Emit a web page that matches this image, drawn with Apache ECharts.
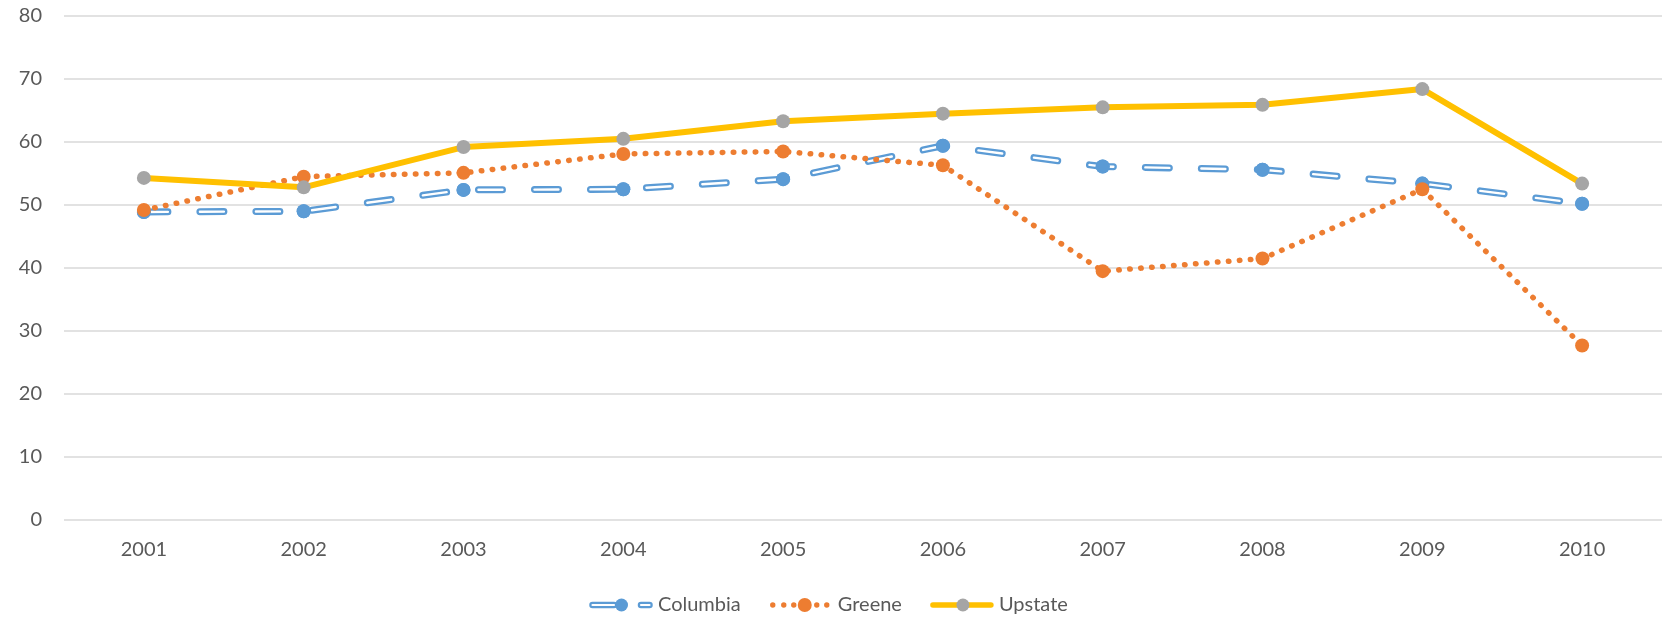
<!DOCTYPE html>
<html>
<head>
<meta charset="utf-8">
<script src="https://cdn.jsdelivr.net/npm/echarts@6/dist/echarts.min.js"></script>
<style>
html,body{margin:0;padding:0;background:#fff;}
#chart{width:1662px;height:619px;}
</style>
</head>
<body>
<div id="chart"></div>
<script>
const years = ['2001','2002','2003','2004','2005','2006','2007','2008','2009','2010'];
const columbia = [48.9, 49.0, 52.4, 52.5, 54.1, 59.4, 56.1, 55.6, 53.4, 50.2];
const greene   = [49.2, 54.5, 55.1, 58.1, 58.5, 56.3, 39.5, 41.5, 52.5, 27.7];
const upstate  = [54.3, 52.8, 59.2, 60.5, 63.3, 64.5, 65.5, 65.9, 68.4, 53.4];
const yTicks = {min: 0, max: 80, interval: 10};

const FONT = 'Lato';
const TXT = '#595959';
const BLUE = '#5B9BD5', ORANGE = '#ED7D31', GOLD = '#FFC000', GREY = '#A5A5A5';

function svgIcon(body) {
  const svg = '<svg xmlns="http://www.w3.org/2000/svg" width="64" height="16" viewBox="0 0 64 16">' + body + '</svg>';
  return 'image://data:image/svg+xml;charset=utf-8,' + encodeURIComponent(svg);
}
const iconColumbia = svgIcon(
  '<line x1="3.5" y1="8" x2="25" y2="8" stroke="' + BLUE + '" stroke-width="6.5" stroke-linecap="round"/>' +
  '<line x1="3.5" y1="8" x2="25" y2="8" stroke="#fff" stroke-width="2.2" stroke-linecap="round"/>' +
  '<line x1="52" y1="8" x2="60.5" y2="8" stroke="' + BLUE + '" stroke-width="6.5" stroke-linecap="round"/>' +
  '<line x1="52" y1="8" x2="60.5" y2="8" stroke="#fff" stroke-width="2.2" stroke-linecap="round"/>' +
  '<circle cx="32.5" cy="8" r="6.5" fill="' + BLUE + '"/>'
);
const iconGreene = svgIcon(
  '<circle cx="4" cy="8" r="2.7" fill="' + ORANGE + '"/>' +
  '<circle cx="15" cy="8" r="2.7" fill="' + ORANGE + '"/>' +
  '<circle cx="25" cy="8" r="2.7" fill="' + ORANGE + '"/>' +
  '<circle cx="36" cy="8" r="7" fill="' + ORANGE + '"/>' +
  '<circle cx="48" cy="8" r="2.7" fill="' + ORANGE + '"/>' +
  '<circle cx="58" cy="8" r="2.7" fill="' + ORANGE + '"/>'
);
const iconUpstate = svgIcon(
  '<line x1="3" y1="8" x2="61" y2="8" stroke="' + GOLD + '" stroke-width="5.5" stroke-linecap="round"/>' +
  '<circle cx="33" cy="8" r="6.5" fill="' + GREY + '"/>'
);

const chart = echarts.init(document.getElementById('chart'), null, {renderer: 'canvas'});
chart.setOption({
  animation: false,
  backgroundColor: '#ffffff',
  grid: {left: 64, top: 16, width: 1617, height: 504, containLabel: false},
  legend: {
    data: [
      {name: 'Columbia', icon: iconColumbia},
      {name: 'Greene', icon: iconGreene},
      {name: 'Upstate', icon: iconUpstate}
    ],
    left: 584, top: 590,
    itemWidth: 64, itemHeight: 16, itemGap: 28,
    textStyle: {color: TXT, fontFamily: FONT, fontSize: 20}
  },
  xAxis: {
    type: 'category', data: years, boundaryGap: true,
    axisLine: {show: false}, axisTick: {show: false},
    axisLabel: {color: TXT, fontFamily: FONT, fontSize: 20, margin: 20}
  },
  yAxis: {
    type: 'value', min: yTicks.min, max: yTicks.max, interval: yTicks.interval,
    axisLine: {show: false}, axisTick: {show: false},
    axisLabel: {color: TXT, fontFamily: FONT, fontSize: 20, margin: 22},
    splitLine: {lineStyle: {color: '#D9D9D9', width: 1.5}}
  },
  series: [
    {
      name: 'Columbia', type: 'line', data: columbia,
      color: BLUE, symbol: 'circle', symbolSize: 14,
      itemStyle: {color: BLUE},
      lineStyle: {color: BLUE, width: 7, type: [24, 32], cap: 'round', join: 'round'}
    },
    {
      name: 'Columbia_inner', type: 'line', data: columbia,
      symbol: 'none', silent: true,
      lineStyle: {color: '#ffffff', width: 2.4, type: [24, 32], cap: 'round', join: 'round'}
    },
    {
      name: 'Columbia_marks', type: 'line', data: columbia,
      symbol: 'circle', symbolSize: 14, silent: true,
      itemStyle: {color: BLUE},
      lineStyle: {width: 0, opacity: 0}
    },
    {
      name: 'Greene', type: 'line', data: greene,
      color: ORANGE, symbol: 'circle', symbolSize: 14,
      itemStyle: {color: ORANGE},
      lineStyle: {color: ORANGE, width: 5.5, type: [0.5, 10.5], cap: 'round', join: 'round'}
    },
    {
      name: 'Upstate', type: 'line', data: upstate,
      color: GOLD, symbol: 'circle', symbolSize: 14,
      itemStyle: {color: GREY},
      lineStyle: {color: GOLD, width: 6, join: 'round'}
    }
  ]
});
</script>
</body>
</html>
